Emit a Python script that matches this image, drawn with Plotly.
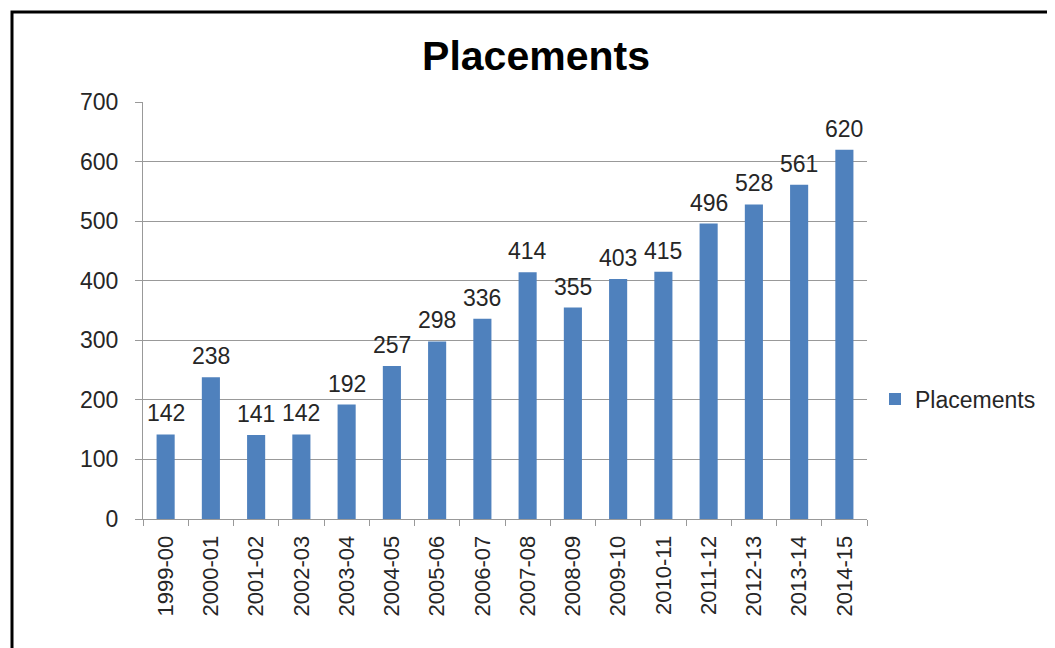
import plotly.graph_objects as go

categories = ["1999-00", "2000-01", "2001-02", "2002-03", "2003-04", "2004-05",
              "2005-06", "2006-07", "2007-08", "2008-09", "2009-10", "2010-11",
              "2011-12", "2012-13", "2013-14", "2014-15"]
placements = [142, 238, 141, 142, 192, 257, 298, 336, 414, 355, 403, 415,
              496, 528, 561, 620]
y_ticks = [0, 100, 200, 300, 400, 500, 600, 700]

W, H = 1055, 648
OFF = 8  # browser default body margin
L, R, T, B = 143 - OFF, 867 - OFF, 102 - OFF, 519 - OFF
pw, ph = R - L, B - T

def px_x(x):
    return (x - OFF - L) / pw

def px_y(y):
    return (B - (y - OFF)) / ph

FONT = "Liberation Sans"
BLUE = "#4F81BD"
GREY = "#999999"
TXT = "#262626"

fig = go.Figure()
fig.add_trace(go.Bar(
    x=categories, y=placements, name="Placements",
    marker=dict(color=BLUE, line=dict(width=0)),
    showlegend=True,
))

for c, v in zip(categories, placements):
    fig.add_annotation(x=c, y=v, text=str(v), showarrow=False,
                       xref="x", yref="y", yanchor="bottom", yshift=6,
                       font=dict(family=FONT, size=23, color=TXT))

fig.add_shape(type="rect", xref="paper", yref="paper",
              x0=px_x(12), x1=px_x(W + 40), y0=px_y(H + 40), y1=px_y(12),
              line=dict(color="black", width=3), fillcolor="rgba(0,0,0,0)",
              layer="below")

fig.update_layout(
    width=W, height=H,
    margin=dict(l=L, r=W - R, t=T, b=H - B, autoexpand=False),
    paper_bgcolor="white", plot_bgcolor="white",
    bargap=0.6,
    title=dict(text="<b>Placements</b>", x=(536 - OFF) / W, xanchor="center",
               y=1 - (56 - OFF) / H, yanchor="middle", yref="container",
               font=dict(family=FONT, size=41, color="black")),
    font=dict(family=FONT, size=22, color=TXT),
    legend=dict(x=px_x(875), y=px_y(399), xanchor="left", yanchor="middle",
                font=dict(family=FONT, size=23, color=TXT),
                bgcolor="rgba(0,0,0,0)"),
    xaxis=dict(type="category", tickangle=-90, tickson="boundaries",
               ticks="outside", ticklen=6, tickcolor=GREY,
               ticklabelstandoff=7,
               showline=True, linecolor=GREY, linewidth=1,
               showgrid=False, tickfont=dict(family=FONT, size=22, color=TXT)),
    yaxis=dict(range=[0, 700], tickvals=y_ticks, ticktext=[str(t) for t in y_ticks],
               ticks="outside", ticklen=7, tickcolor=GREY,
               ticklabelstandoff=12,
               showline=True, linecolor=GREY, linewidth=1,
               showgrid=True, gridcolor=GREY, gridwidth=1,
               zeroline=False,
               tickfont=dict(family=FONT, size=23, color=TXT)),
)

fig.write_html("out.html")
